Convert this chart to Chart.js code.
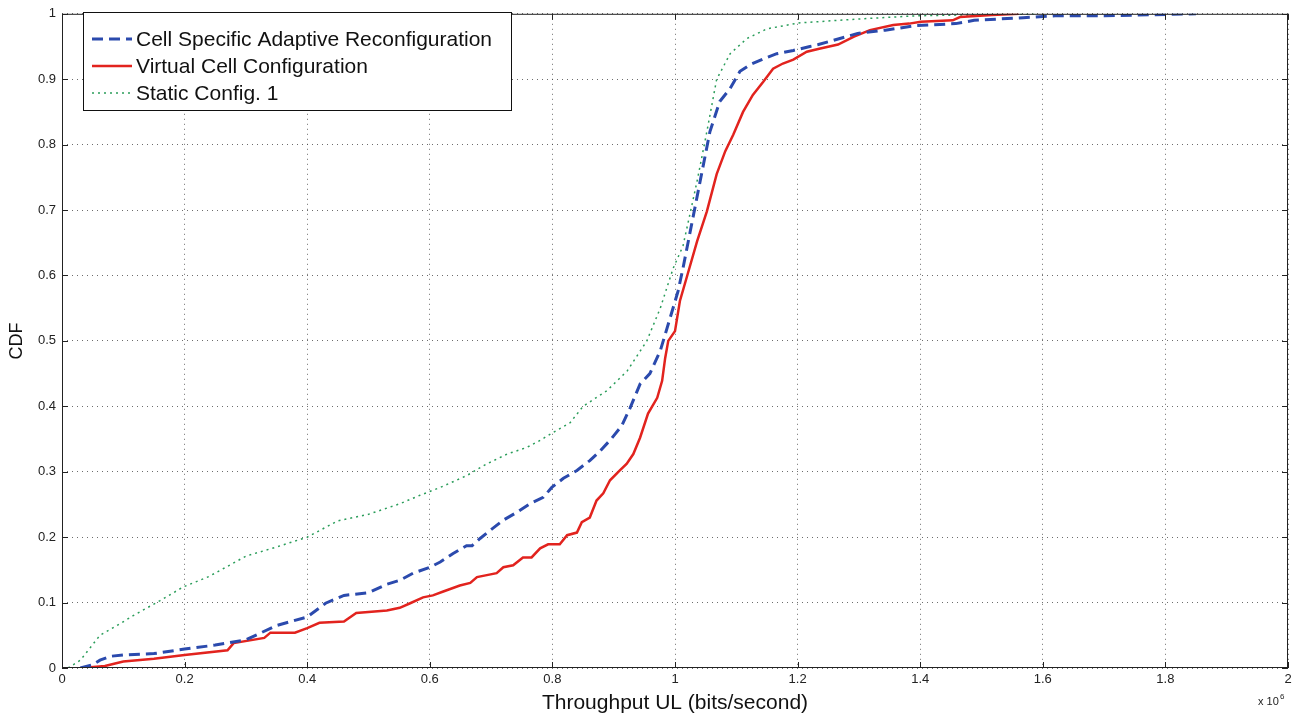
<!DOCTYPE html>
<html>
<head>
<meta charset="utf-8">
<script src="https://cdn.jsdelivr.net/npm/chart.js@4.4.1/dist/chart.umd.min.js"></script>
<style>
html,body{margin:0;padding:0;background:#fff;}
#wrap{width:1298px;height:717px;position:relative;}
</style>
</head>
<body>
<div id="wrap"><canvas id="c" width="1298" height="717"></canvas></div>
<script>
// Throughput in units of 1e6 bits/second
const seriesLabels = ["Cell Specific Adaptive Reconfiguration", "Virtual Cell Configuration", "Static Config. 1"];
const csarX = [0.03,0.05,0.062,0.08,0.1,0.15,0.2,0.25,0.3,0.35,0.4,0.43,0.46,0.5,0.53,0.551,0.573,0.6,0.617,0.638,0.66,0.669,0.682,0.698,0.72,0.742,0.763,0.785,0.799,0.818,0.84,0.861,0.878,0.894,0.913,0.927,0.943,0.959,0.976,0.992,1.005,1.013,1.029,1.041,1.057,1.073,1.09,1.106,1.122,1.144,1.166,1.193,1.22,1.234,1.298,1.343,1.394,1.458,1.488,1.568,1.62,1.7,1.85];
const csarY = [0,0.005,0.012,0.018,0.02,0.022,0.029,0.035,0.043,0.065,0.078,0.099,0.111,0.115,0.128,0.134,0.145,0.154,0.162,0.175,0.187,0.187,0.198,0.21,0.226,0.238,0.251,0.261,0.276,0.29,0.302,0.317,0.332,0.348,0.37,0.398,0.434,0.45,0.485,0.535,0.576,0.611,0.687,0.744,0.82,0.866,0.886,0.912,0.922,0.931,0.939,0.944,0.95,0.953,0.97,0.975,0.982,0.985,0.99,0.994,0.997,0.997,1.0];
const vccX = [0.032,0.07,0.1,0.15,0.2,0.27,0.28,0.33,0.34,0.38,0.4,0.42,0.46,0.48,0.53,0.551,0.568,0.589,0.605,0.622,0.649,0.666,0.677,0.693,0.709,0.72,0.736,0.752,0.766,0.78,0.793,0.812,0.824,0.84,0.848,0.861,0.872,0.883,0.894,0.91,0.921,0.932,0.943,0.956,0.971,0.979,0.984,0.989,1.0,1.008,1.02,1.036,1.052,1.068,1.082,1.095,1.111,1.127,1.144,1.16,1.176,1.193,1.215,1.237,1.266,1.292,1.318,1.356,1.382,1.401,1.453,1.465,1.517,1.561];
const vccY = [0,0.003,0.01,0.014,0.02,0.027,0.038,0.046,0.054,0.054,0.061,0.069,0.071,0.084,0.088,0.092,0.099,0.108,0.111,0.117,0.126,0.13,0.139,0.142,0.145,0.154,0.157,0.169,0.169,0.183,0.189,0.189,0.203,0.207,0.223,0.23,0.256,0.267,0.287,0.302,0.312,0.327,0.352,0.389,0.413,0.439,0.474,0.5,0.515,0.561,0.6,0.652,0.698,0.755,0.79,0.815,0.85,0.876,0.896,0.916,0.924,0.93,0.942,0.947,0.953,0.965,0.975,0.983,0.985,0.988,0.99,0.995,0.998,1.0];
const staticX = [0.01,0.03,0.062,0.09,0.116,0.16,0.198,0.24,0.279,0.3,0.35,0.4,0.45,0.5,0.551,0.584,0.617,0.66,0.693,0.726,0.758,0.78,0.801,0.829,0.85,0.889,0.922,0.954,0.976,0.997,1.013,1.02,1.036,1.052,1.068,1.09,1.117,1.15,1.202,1.298,1.394,1.587];
const staticY = [0,0.012,0.05,0.065,0.08,0.103,0.124,0.14,0.16,0.171,0.185,0.2,0.225,0.235,0.251,0.264,0.276,0.294,0.312,0.327,0.337,0.348,0.36,0.375,0.4,0.424,0.454,0.5,0.55,0.611,0.645,0.675,0.744,0.82,0.9,0.939,0.962,0.977,0.986,0.992,0.997,1.0];
const xTickValues = [0,0.2,0.4,0.6,0.8,1,1.2,1.4,1.6,1.8,2];
const yTickValues = [0,0.1,0.2,0.3,0.4,0.5,0.6,0.7,0.8,0.9,1];

const toPts = (xs, ys) => xs.map((x, i) => ({x: x, y: ys[i]}));
const FONT = "'Liberation Sans', Arial, sans-serif";

const frame = {
  id: 'frame',
  afterDraw(chart) {
    const ctx = chart.ctx, a = chart.chartArea;
    const xs = chart.scales.x, ys = chart.scales.y;
    ctx.save();
    ctx.strokeStyle = '#222';
    ctx.lineWidth = 1;
    ctx.setLineDash([]);
    ctx.strokeRect(a.left + 0.5, a.top + 0.5, a.right - a.left - 1, a.bottom - a.top - 1);
    const L = 6;
    ctx.beginPath();
    xTickValues.forEach(v => {
      const p = Math.round(xs.getPixelForValue(v)) + 0.5;
      ctx.moveTo(p, a.bottom); ctx.lineTo(p, a.bottom - L);
      ctx.moveTo(p, a.top); ctx.lineTo(p, a.top + L);
    });
    yTickValues.forEach(v => {
      const p = Math.round(ys.getPixelForValue(v)) + 0.5;
      ctx.moveTo(a.left, p); ctx.lineTo(a.left + L, p);
      ctx.moveTo(a.right, p); ctx.lineTo(a.right - L, p);
    });
    ctx.stroke();
    // exponent label
    ctx.fillStyle = '#222';
    ctx.textBaseline = 'alphabetic';
    ctx.textAlign = 'left';
    ctx.font = '11px ' + FONT;
    ctx.fillText('x 10', 1258, 705);
    ctx.font = '8px ' + FONT;
    ctx.fillText('6', 1280, 699);
    // legend
    const lx = 83, ly = 12, lw = 428, lh = 98;
    ctx.fillStyle = '#fff';
    ctx.fillRect(lx, ly, lw, lh);
    ctx.strokeStyle = '#111';
    ctx.lineWidth = 1;
    ctx.strokeRect(lx + 0.5, ly + 0.5, lw, lh);
    chart.data.datasets.forEach((ds, i) => {
      const yy = 39 + i * 27;
      ctx.save();
      ctx.strokeStyle = ds.borderColor;
      ctx.lineWidth = ds.borderWidth;
      ctx.setLineDash(ds.borderDash || []);
      ctx.beginPath();
      ctx.moveTo(92, yy); ctx.lineTo(132, yy);
      ctx.stroke();
      ctx.restore();
      ctx.fillStyle = '#111';
      ctx.font = '21px ' + FONT;
      ctx.textBaseline = 'middle';
      ctx.fillText(ds.label, 136, yy + 1);
    });
    ctx.restore();
  }
};

new Chart(document.getElementById('c'), {
  type: 'scatter',
  data: {
    datasets: [
      {label: seriesLabels[0], data: toPts(csarX, csarY), showLine: true, borderColor: '#2b4aad', borderWidth: 3, borderDash: [11, 6], pointRadius: 0, tension: 0, fill: false},
      {label: seriesLabels[1], data: toPts(vccX, vccY), showLine: true, borderColor: '#e2231e', borderWidth: 2.5, pointRadius: 0, tension: 0, fill: false},
      {label: seriesLabels[2], data: toPts(staticX, staticY), showLine: true, borderColor: '#2a9d5a', borderWidth: 1.5, borderDash: [2, 4], pointRadius: 0, tension: 0, fill: false}
    ]
  },
  options: {
    responsive: false,
    animation: false,
    devicePixelRatio: 1,
    layout: {padding: {left: 0, right: 10, top: 12, bottom: 0}},
    plugins: {legend: {display: false}, tooltip: {enabled: false}},
    scales: {
      x: {
        type: 'linear', min: 0, max: 2,
        afterBuildTicks: s => { s.ticks = xTickValues.map(v => ({value: v})); },
        afterFit: s => { s.height = 49; },
        grid: {color: 'rgba(60,60,60,0.75)', drawTicks: false, lineWidth: 1},
        border: {display: false, dash: [1, 4]},
        ticks: {color: '#222', font: {family: FONT, size: 13}, padding: 4, maxRotation: 0, callback: v => String(v)},
        title: {display: true, text: 'Throughput UL (bits/second)', color: '#111', font: {family: FONT, size: 21}, padding: {top: 0, bottom: 1}}
      },
      y: {
        type: 'linear', min: 0, max: 1,
        afterBuildTicks: s => { s.ticks = yTickValues.map(v => ({value: v})); },
        afterFit: s => { s.width = 62; },
        grid: {color: 'rgba(60,60,60,0.75)', drawTicks: false, lineWidth: 1},
        border: {display: false, dash: [1, 4]},
        ticks: {color: '#222', font: {family: FONT, size: 13}, padding: 6, callback: v => String(v)},
        title: {display: true, text: 'CDF', color: '#111', font: {family: FONT, size: 18}, padding: {top: 6, bottom: 0}}
      }
    }
  },
  plugins: [frame]
});
</script>
</body>
</html>
